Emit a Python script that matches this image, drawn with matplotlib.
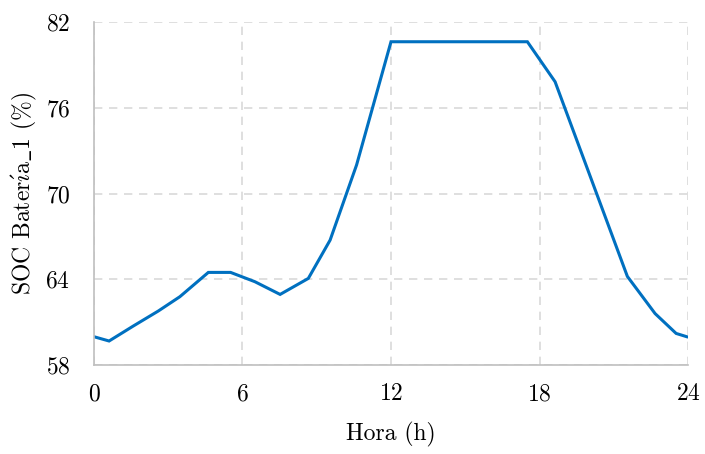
import matplotlib.pyplot as plt

plt.rcParams['font.family'] = ['cmr10', 'DejaVu Serif']
plt.rcParams['axes.formatter.use_mathtext'] = True
plt.rcParams['mathtext.fontset'] = 'cm'

hora = [0, 0.61, 1.59, 2.6, 3.47, 4.62, 5.52, 6.5, 7.52, 8.66, 9.54, 10.61,
        12.0, 17.51, 18.63, 21.55, 22.67, 23.52, 23.95]
soc = [59.98, 59.68, 60.73, 61.78, 62.78, 64.48, 64.48, 63.83, 62.94, 64.06,
       66.74, 72.0, 80.62, 80.62, 77.82, 64.2, 61.6, 60.21, 59.98]

xticks = [0, 6, 12, 18, 24]
yticks = [58, 64, 70, 76, 82]

fig = plt.figure(figsize=(7.05, 4.54), dpi=100)
ax = fig.add_axes([0.1333, 0.196, 0.8426, 0.7555])

ax.plot(hora, soc, color='#0070C0', lw=2.2, solid_joinstyle='miter')

ax.set_xlim(0, 24)
ax.set_ylim(58, 82)
ax.set_xticks(xticks)
ax.set_yticks(yticks)
ax.grid(True, color='#d9d9d9', ls=(0, (5, 4)), lw=1.2)
ax.set_axisbelow(True)

for s in ['top', 'right']:
    ax.spines[s].set_visible(False)
for s in ['left', 'bottom']:
    ax.spines[s].set_color('#bfbfbf')
    ax.spines[s].set_linewidth(1.2)

ax.tick_params(length=0, labelsize=17)
ax.tick_params(axis='y', pad=17)
ax.tick_params(axis='x', pad=13)

ax.set_xlabel('Hora (h)', fontsize=17, labelpad=12)
# cmr10 no tiene "í" ni "_" bien, se ponen con mathtext
ax.set_ylabel(r'SOC Bater$\mathrm{\acute{\imath}}$a$\_$1 (%)', fontsize=17, labelpad=5)

fig.savefig('out.png', dpi=100)
